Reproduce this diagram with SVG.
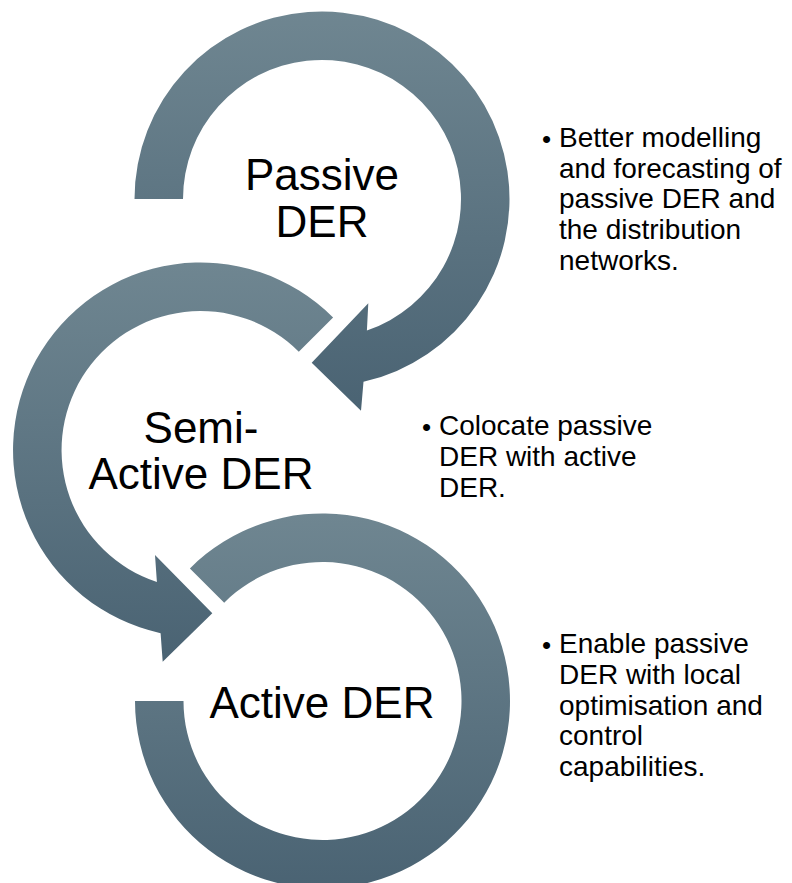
<svg xmlns="http://www.w3.org/2000/svg" width="792" height="883" viewBox="0 0 792 883">
<defs>
<linearGradient id="g" x1="0" y1="0" x2="0" y2="1">
<stop offset="0" stop-color="#6f8691"/>
<stop offset="1" stop-color="#4a6373"/>
</linearGradient>
</defs>
<style>
.ring{fill:url(#g);}
.lbl{font-family:"Liberation Sans",Arial,sans-serif;font-size:44px;fill:#000;text-anchor:middle;}
.note{font-family:"Liberation Sans",Arial,sans-serif;font-size:28px;fill:#000;}
.bul{font-size:26px;}
</style>
<rect width="792" height="883" fill="#fff"/>
<g id="node-passive">
<path class="ring" d="M134.5,199 A187.5,187.5 0 1 1 363.5,381.8 L361,410.7 L311.7,362.7 L368.3,303.3 L366.9,330.5 A139,139 0 1 0 183,199 Z"/>
<text class="lbl" x="322" y="190">Passive</text>
<text class="lbl" x="322" y="237">DER</text>
</g>
<g id="node-semi">
<path class="ring" d="M333.1,317.4 A187.5,187.5 0 1 0 160.6,633.2 L162.7,661.7 L212.3,613.3 L155,555 L156.9,582 A139,139 0 1 1 298.8,351.7 Z"/>
<text class="lbl" x="201" y="443">Semi-</text>
<text class="lbl" x="201" y="489">Active DER</text>
</g>
<g id="node-active">
<path class="ring" d="M189.9,568.4 A187.5,187.5 0 1 1 135,701 L183.5,701 A139,139 0 1 0 224.2,602.7 Z"/>
<text class="lbl" x="322" y="718">Active DER</text>
</g>
<g id="connectors"></g>
<g id="note-passive" class="note">
<text class="bul" x="542" y="147.5">•</text>
<text x="559" y="146.7">Better modelling</text>
<text x="559" y="177.5">and forecasting of</text>
<text x="559" y="208.3">passive DER and</text>
<text x="559" y="239.1">the distribution</text>
<text x="559" y="269.9">networks.</text>
</g>
<g id="note-semi" class="note">
<text class="bul" x="422" y="435.8">•</text>
<text x="439" y="435">Colocate passive</text>
<text x="439" y="465.8">DER with active</text>
<text x="439" y="496.6">DER.</text>
</g>
<g id="note-active" class="note">
<text class="bul" x="542" y="653.8">•</text>
<text x="559" y="653">Enable passive</text>
<text x="559" y="683.8">DER with local</text>
<text x="559" y="714.6">optimisation and</text>
<text x="559" y="745.4">control</text>
<text x="559" y="776.2">capabilities.</text>
</g>
</svg>
